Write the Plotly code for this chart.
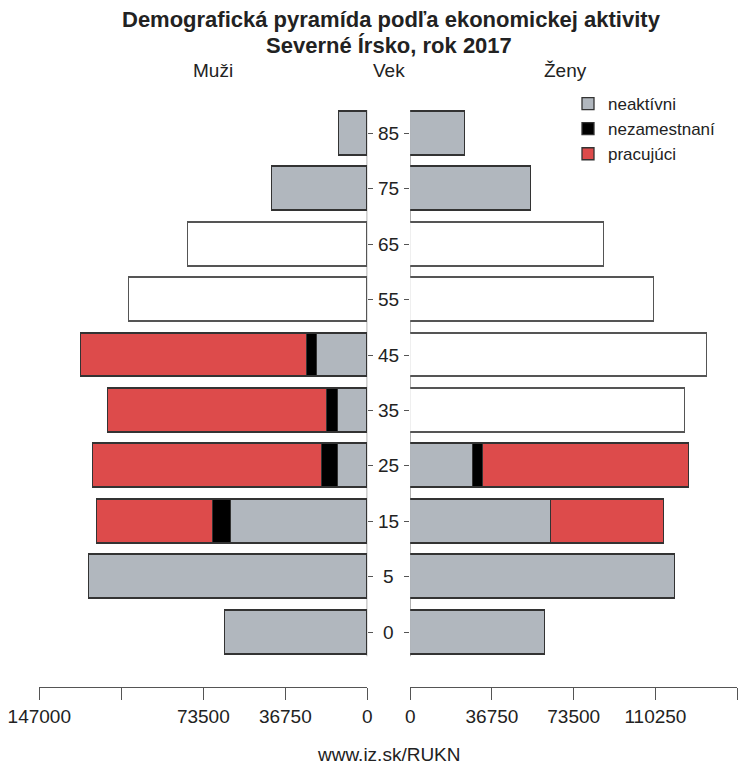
import plotly.graph_objects as go

# ---------------- data ----------------
ages = ["0", "5", "15", "25", "35", "45", "55", "65", "75", "85"]

men_inactive   = [63600, 124600, 60800, 12800, 13000, 22400, None, None, 42400, 12500]
men_unemployed = [None, None, 8100, 7200, 4900, 4500, None, None, None, None]
men_working    = [None, None, 52100, 102900, 98400, 101100, None, None, None, None]
men_total_only = [None, None, None, None, None, None, 106700, 80400, None, None]

women_inactive   = [60800, 119200, 63600, 28500, None, None, None, None, 54600, 24800]
women_unemployed = [None, None, 0, 4500, None, None, None, None, None, None]
women_working    = [None, None, 50700, 92600, None, None, None, None, None, None]
women_total_only = [None, None, None, None, 123500, 133400, 109500, 87300, None, None]

series_names = ["neaktívni", "nezamestnaní", "pracujúci"]
x_ticks_left = [147000, 110250, 73500, 36750, 0]
x_ticktext_left = ["147000", "", "73500", "36750", "0"]
x_ticks_right = [0, 36750, 73500, 110250, 147000]
x_ticktext_right = ["0", "36750", "73500", "110250", ""]

title1 = "Demografická pyramída podľa ekonomickej aktivity"
title2 = "Severné Írsko, rok 2017"
source = "www.iz.sk/RUKN"

# ---------------- styling ----------------
W, H = 738, 764
FONT = "Liberation Sans"
C_INACT = "#b1b7be"
C_UNEMP = "#000000"
C_WORK = "#dd4b4b"
EDGE = "#333333"
TXT = "#222222"

def px(x):
    return x / W

def py(y):
    return 1 - y / H

yidx = list(range(len(ages)))

fig = go.Figure()

def add_side(inact, unemp, work, total, xa, ya, show):
    for vals, name, col in [(inact, series_names[0], C_INACT),
                            (unemp, series_names[1], C_UNEMP),
                            (work, series_names[2], C_WORK)]:
        fig.add_trace(go.Bar(
            y=yidx, x=vals, orientation="h", name=name,
            marker=dict(color=col, line=dict(color=EDGE, width=1.3)),
            width=0.79, xaxis=xa, yaxis=ya, legendgroup=name, showlegend=show,
        ))
    fig.add_trace(go.Bar(
        y=yidx, x=total, orientation="h", name="spolu",
        marker=dict(color="white", line=dict(color="#555555", width=1.3)),
        width=0.79, xaxis=xa, yaxis=ya, showlegend=False,
    ))

add_side(men_inactive, men_unemployed, men_working, men_total_only, "x", "y", True)
add_side(women_inactive, women_unemployed, women_working, women_total_only, "x2", "y2", False)

ydom = [py(687.3), py(105.6)]
yrange = [-0.992, 9.5]

axis_common = dict(showgrid=False, zeroline=False, showline=True, linecolor="#555555",
                   linewidth=1.2, ticks="outside", ticklen=12, tickcolor="#555555",
                   tickwidth=1.2, tickfont=dict(family=FONT, size=19, color=TXT),
                   fixedrange=True, automargin=False)
yaxis_common = dict(tickvals=yidx, showticklabels=False, ticks="outside", ticklen=5,
                    tickcolor="#555555", tickwidth=1.2, showgrid=False, zeroline=False,
                    showline=False, fixedrange=True, automargin=False)

fig.update_layout(
    template="none",
    width=W, height=H,
    margin=dict(l=0, r=0, t=0, b=0, pad=0),
    paper_bgcolor="white", plot_bgcolor="white",
    barmode="stack", bargap=0,
    font=dict(family=FONT, color=TXT),
    xaxis=dict(domain=[px(39.3), px(367.3)], range=[147000, 0], anchor="y",
               tickvals=x_ticks_left, ticktext=x_ticktext_left, **axis_common),
    xaxis2=dict(domain=[px(410.2), px(737.2)], range=[0, 147000], anchor="y2",
                tickvals=x_ticks_right, ticktext=x_ticktext_right, **axis_common),
    yaxis=dict(domain=ydom, range=yrange, anchor="x", side="right", **yaxis_common),
    yaxis2=dict(domain=ydom, range=yrange, anchor="x2", side="left", **yaxis_common),
    legend=dict(x=px(568), y=py(86), xanchor="left", yanchor="top",
                traceorder="normal", font=dict(family=FONT, size=17, color=TXT),
                bgcolor="rgba(0,0,0,0)", borderwidth=0, tracegroupgap=0, itemwidth=30),
    showlegend=True,
)

# vertical base lines at zero on both sides
for xa, ya in [("x", "y"), ("x2", "y2")]:
    fig.add_shape(type="line", xref=xa, yref=ya, x0=0, x1=0, y0=-0.43, y1=9.42,
                  line=dict(color="#999999", width=1.5), layer="below")

ann = []
ann.append(dict(text="<b>" + title1 + "</b>", x=px(391), y=py(20), xref="paper", yref="paper",
                showarrow=False, font=dict(family=FONT, size=22, color=TXT),
                xanchor="center", yanchor="middle"))
ann.append(dict(text="<b>" + title2 + "</b>", x=px(389), y=py(46), xref="paper", yref="paper",
                showarrow=False, font=dict(family=FONT, size=22, color=TXT),
                xanchor="center", yanchor="middle"))
for t, xc in [("Muži", 213), ("Vek", 389), ("Ženy", 565)]:
    ann.append(dict(text=t, x=px(xc), y=py(71), xref="paper", yref="paper", showarrow=False,
                    font=dict(family=FONT, size=19, color=TXT), xanchor="center", yanchor="middle"))
for i, a in enumerate(ages):
    ann.append(dict(text=a, x=px(388.6), y=i, xref="paper", yref="y", showarrow=False,
                    font=dict(family=FONT, size=19, color=TXT), xanchor="center", yanchor="middle"))
ann.append(dict(text=source, x=px(389), y=py(754), xref="paper", yref="paper", showarrow=False,
                font=dict(family=FONT, size=19, color=TXT), xanchor="center", yanchor="middle"))
fig.update_layout(annotations=ann)

fig.write_html("out.html", config={"displayModeBar": False},
               post_script="document.body.style.margin='0';")
